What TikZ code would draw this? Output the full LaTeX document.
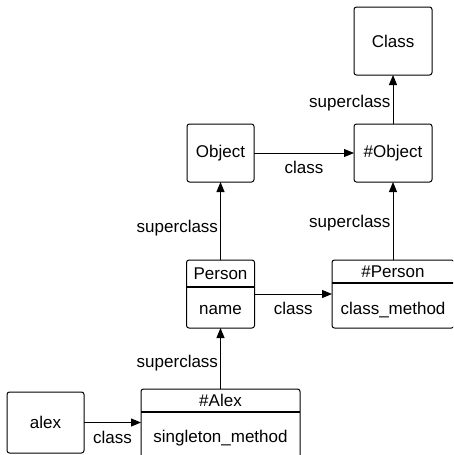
\documentclass[tikz,border=0pt]{standalone}
\usepackage{fontspec}
\setmainfont{Liberation Sans}
\usetikzlibrary{positioning,arrows.meta}

\begin{document}
\begin{tikzpicture}
[x=1pt, y=-1pt, font=\fontsize{17}{20}\selectfont,
% STYLES
% The box style is used for every object and every class
box/.style={rectangle, draw, rounded corners=2.5pt, line width=1pt, inner sep=0pt, outer sep=0pt},
% The part style is used for the name and the methods of a class
part/.style={rectangle, inner sep=0pt, outer sep=0pt},
% The divider style is used for the line below the name of a class
divider/.style={line width=2pt},
% The link style is used for the class and superclass arrows
link/.style={-{Triangle[length=10pt,width=8pt]}, line width=1pt},
lbl/.style={inner sep=2pt}]

\useasboundingbox (0,0) rectangle (453,455);
\clip (0,0) rectangle (453,455);

% Draw objects and classes
\node [box, minimum width=78pt, minimum height=58pt] (hobject) at (393,153) {\#Object};
\node [box, minimum width=78pt, minimum height=68pt, above=49pt of hobject] (class) {Class};
\node [box, minimum width=67pt, minimum height=58pt, left=100pt of hobject] (object) {Object};
\node [box, minimum width=68pt, minimum height=68pt, below=78pt of object] (person) {};
\node [box, minimum width=122pt, minimum height=68pt, below=78pt of hobject] (hperson) {};
\node [box, minimum width=159pt, minimum height=75pt, below=61pt of person] (halex) {};
\node [box, minimum width=77pt, minimum height=61pt, left=57pt of halex, yshift=4pt] (alex) {alex};

%%%%%%%%%%%%%%%
% Names and methods

% person
\node [part, minimum width=68pt, minimum height=27pt, below=0pt of person.north] (person-head) {Person};
\node [part, minimum width=68pt, minimum height=46pt, below=0pt of person-head] (person-body) {name};
\draw [divider] (person.west |- person-head.south) -- (person.east |- person-head.south);

% hperson
\node [part, minimum width=122pt, minimum height=23pt, below=0pt of hperson.north] (hperson-head) {\#Person};
\node [part, minimum width=122pt, minimum height=54pt, below=0pt of hperson-head] (hperson-body) {class\_method};
\draw [divider] (hperson.west |- hperson-head.south) -- (hperson.east |- hperson-head.south);

% halex
\node [part, minimum width=159pt, minimum height=23pt, below=0pt of halex.north] (halex-head) {\#Alex};
\node [part, minimum width=159pt, minimum height=52pt, below=0pt of halex-head] (halex-body) {singleton\_method};
\draw [divider] (halex.west |- halex-head.south) -- (halex.east |- halex-head.south);

%%%%%%%%%%%%%%%

% Draw the links
\path [link]
(hobject) edge node [lbl, left, pos=0.43] {superclass} (class)
(object) edge node [lbl, below=6pt] {class} (hobject)
(person) edge node [lbl, left, pos=0.41] {superclass} (object)
(hperson) edge node [lbl, left, pos=0.47] {superclass} (hobject)
(person) edge node [lbl, below=6pt] {class} (hperson)
(halex) edge node [lbl, left, pos=0.43] {superclass} (person)
(alex) edge node [lbl, below=6pt] {class} (alex -| halex.west);

\end{tikzpicture}
\end{document}
